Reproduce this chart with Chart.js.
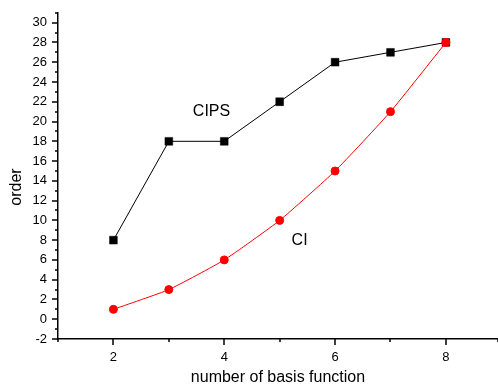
<!DOCTYPE html>
<html><head><meta charset="utf-8">
<script src="https://cdn.jsdelivr.net/npm/chart.js@4/dist/chart.umd.min.js"></script>
<style>html,body{margin:0;padding:0;overflow:hidden;background:#fff}</style>
</head><body><canvas id="c" width="504" height="388"></canvas>
<script>
const basisCounts = [2, 3, 4, 5, 6, 7, 8];
const cipsOrder = [8, 18, 18, 22, 26, 27, 28];
const ciOrder = [1, 3, 6, 10, 15, 21, 28];
const xTickLabels = [2, 4, 6, 8];
const yTickLabels = [-2, 0, 2, 4, 6, 8, 10, 12, 14, 16, 18, 20, 22, 24, 26, 28, 30];
const seriesLabels = [{text: 'CIPS', x: 3.77, y: 21}, {text: 'CI', x: 5.36, y: 8}];
const yTitle = 'order';

const FONT = 'Liberation Sans, Arial, sans-serif';
Chart.defaults.font.family = FONT;
Chart.defaults.color = '#000';

const tickPlugin = {
  id: 'ticksAndLabels',
  afterDraw(chart) {
    const ctx = chart.ctx;
    const xs = chart.scales.x, ys = chart.scales.y;
    ctx.save();
    ctx.strokeStyle = '#000';
    ctx.lineWidth = 1.5;
    xs.ticks.forEach(t => {
      const px = Math.round(xs.getPixelForValue(t.value));
      const major = xTickLabels.includes(t.value);
      ctx.beginPath();
      ctx.moveTo(px, xs.top);
      ctx.lineTo(px, xs.top + (major ? 6 : 3));
      ctx.stroke();
    });
    ys.ticks.forEach(t => {
      const py = Math.round(ys.getPixelForValue(t.value));
      const major = yTickLabels.includes(t.value);
      ctx.beginPath();
      ctx.moveTo(ys.right, py);
      ctx.lineTo(ys.right - (major ? 6 : 3), py);
      ctx.stroke();
    });
    ctx.fillStyle = '#000';
    ctx.font = '16px ' + FONT;
    ctx.textAlign = 'center';
    ctx.textBaseline = 'middle';
    seriesLabels.forEach(l => {
      ctx.fillText(l.text, xs.getPixelForValue(l.x), ys.getPixelForValue(l.y));
    });
    ctx.translate(17, 187);
    ctx.rotate(-Math.PI / 2);
    ctx.fillText(yTitle, 0, 0);
    ctx.restore();
  }
};

new Chart(document.getElementById('c'), {
  type: 'line',
  data: {
    datasets: [
      {
        label: 'CIPS', order: 1,
        data: basisCounts.map((x, i) => ({x, y: cipsOrder[i]})),
        borderColor: '#000', backgroundColor: '#000', borderWidth: 1,
        pointStyle: 'rect', pointRadius: 5.5, pointHoverRadius: 5.5, pointBorderWidth: 0.5, tension: 0
      },
      {
        label: 'CI', order: 0,
        data: basisCounts.map((x, i) => ({x, y: ciOrder[i]})),
        borderColor: '#ff0000', backgroundColor: '#ff0000', borderWidth: 1,
        pointStyle: 'circle', pointRadius: 4, pointHoverRadius: 4, pointBorderWidth: 1, tension: 0.15
      }
    ]
  },
  options: {
    responsive: false, animation: false,
    layout: {padding: {top: 10, right: 2, left: 0, bottom: 0}},
    plugins: {legend: {display: false}, tooltip: {enabled: false}},
    scales: {
      x: {
        type: 'linear', min: 1, max: 8.94,
        border: {display: true, color: '#000', width: 1.5},
        grid: {display: true, drawOnChartArea: false, drawTicks: true, tickLength: 6, tickColor: 'transparent'},
        ticks: {stepSize: 1, padding: 5, font: {size: 13}, maxRotation: 0, autoSkip: false,
          callback: v => xTickLabels.includes(v) ? String(v) : ''},
        title: {display: true, text: 'number of basis function', font: {size: 16}, padding: {top: 4, bottom: 1}},
        afterFit: s => { s.height = 49; }
      },
      y: {
        type: 'linear', min: -2, max: 31,
        border: {display: true, color: '#000', width: 1.5},
        grid: {display: true, drawOnChartArea: false, drawTicks: true, tickLength: 6, tickColor: 'transparent'},
        ticks: {stepSize: 1, padding: 5, font: {size: 13}, autoSkip: false,
          callback: v => yTickLabels.includes(v) ? String(v) : ''},
        title: {display: false},
        afterFit: s => { s.width = 58; }
      }
    }
  },
  plugins: [tickPlugin]
});
</script></body></html>
